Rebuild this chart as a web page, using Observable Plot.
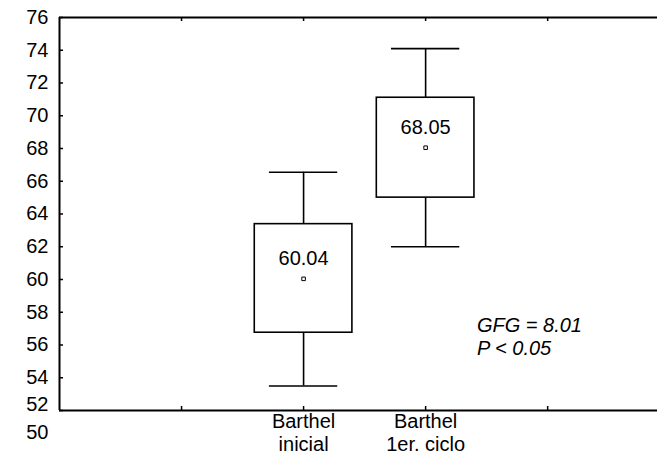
<!DOCTYPE html>
<html>
<head>
<meta charset="utf-8">
<script src="https://cdn.jsdelivr.net/npm/d3@7"></script>
<script src="https://cdn.jsdelivr.net/npm/@observablehq/plot@0.6"></script>
<style>
  html, body { margin: 0; padding: 0; background: #fff; }
</style>
</head>
<body>
<div id="chart"></div>
<script>
// ---- data ----
const categories = ["Barthel\ninicial", "Barthel\n1er. ciclo"];
const groupX = [2, 3];               // category slot on the x axis
const means = [60.04, 68.05];
const boxLow = [56.75, 65.0];
const boxHigh = [63.38, 71.1];
const whiskerLow = [53.5, 62.0];
const whiskerHigh = [66.55, 74.1];
const yTicks = [52, 54, 56, 58, 60, 62, 64, 66, 68, 70, 72, 74, 76];
const yTickLabels = ["50", "52", "54", "56", "58", "60", "62", "64", "66", "68", "70", "72", "74", "76"];
const xTicks = [1, 2, 3, 4];
const annotation = ["GFG = 8.01", "P < 0.05"];

const rows = categories.map((c, i) => ({
  cat: c, x: groupX[i], mean: means[i],
  lo: boxLow[i], hi: boxHigh[i], wlo: whiskerLow[i], whi: whiskerHigh[i]
}));

const boxHalf = 0.4, capHalf = 0.28;
const font = "'Liberation Sans', Arial, sans-serif";
const fs = 20;

const upperLabels = yTickLabels.filter(l => +l >= 54).map(Number);

const chart = Plot.plot({
  width: 657,
  height: 458,
  marginLeft: 59,
  marginRight: 0,
  marginTop: 17,
  marginBottom: 48,
  style: {fontFamily: font, fontSize: fs + "px", color: "black", background: "white", overflow: "visible"},
  x: {type: "linear", domain: [0, 4.9]},
  y: {type: "linear", domain: [52, 76]},
  marks: [
    // frame lines
    Plot.ruleY([52, 76], {stroke: "black", strokeWidth: 2}),
    Plot.ruleX([0], {stroke: "black", strokeWidth: 2}),
    // inward tick marks
    Plot.axisY({ticks: yTicks, tickSize: -4, tickFormat: () => "", label: null, strokeWidth: 1.5}),
    Plot.axisX({ticks: xTicks, anchor: "bottom", tickSize: -4, tickFormat: () => "", label: null, strokeWidth: 1.5}),
    Plot.axisX({ticks: xTicks, anchor: "top", tickSize: -3, tickFormat: () => "", label: null, strokeWidth: 1.5}),
    // y tick labels
    Plot.axisY({ticks: upperLabels, tickSize: 0, tickPadding: 11, label: null, fontSize: fs}),
    Plot.text([yTickLabels[1]], {x: 0, y: 52, text: d => d, textAnchor: "end", dx: -11, dy: -6, fontSize: fs}),
    Plot.text([yTickLabels[0]], {x: 0, y: 52, text: d => d, textAnchor: "end", dx: -11, dy: 22, fontSize: fs, clip: false}),
    // x category labels
    Plot.axisX({ticks: groupX, tickSize: 0, tickPadding: 1, lineHeight: 1.15, fontSize: fs, label: null,
      tickFormat: d => categories[groupX.indexOf(d)]}),
    // whiskers
    Plot.ruleX(rows, {x: "x", y1: "wlo", y2: "whi", stroke: "black", strokeWidth: 1.6}),
    Plot.ruleY(rows, {y: "wlo", x1: d => d.x - capHalf, x2: d => d.x + capHalf, stroke: "black", strokeWidth: 1.6}),
    Plot.ruleY(rows, {y: "whi", x1: d => d.x - capHalf, x2: d => d.x + capHalf, stroke: "black", strokeWidth: 1.6}),
    // boxes
    Plot.rect(rows, {x1: d => d.x - boxHalf, x2: d => d.x + boxHalf, y1: "lo", y2: "hi",
      fill: "white", stroke: "black", strokeWidth: 1.6}),
    // mean marker and label
    Plot.dot(rows, {x: "x", y: "mean", symbol: "square", r: 2, fill: "white", stroke: "black", strokeWidth: 1}),
    Plot.text(rows, {x: "x", y: "mean", text: d => d.mean.toFixed(2), dy: -20, fontSize: fs}),
    // annotation
    Plot.text([annotation.join("\n")], {x: 3.42, y: 57.8, text: d => d, textAnchor: "start",
      lineAnchor: "top", lineHeight: 1.15, fontStyle: "italic", fontSize: fs})
  ]
});

document.getElementById("chart").appendChild(chart);
</script>
</body>
</html>
